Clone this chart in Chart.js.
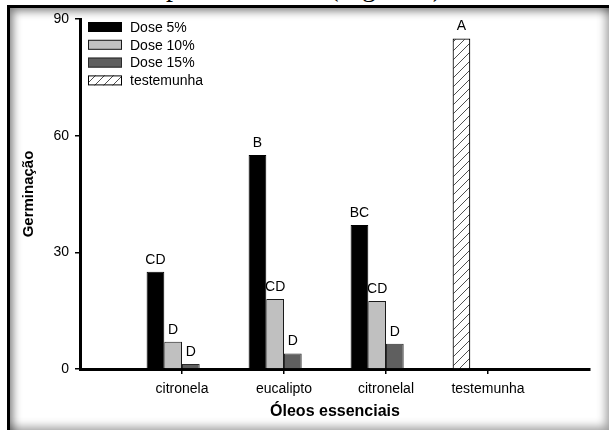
<!DOCTYPE html>
<html lang="pt">
<head>
<meta charset="UTF-8">
<title>Germinação - óleos essenciais</title>
<script src="https://cdn.jsdelivr.net/npm/chart.js@4.4.1/dist/chart.umd.min.js"></script>
<style>
  html, body { margin: 0; padding: 0; background: #fff; }
  body { width: 609px; height: 430px; position: relative; overflow: hidden; }
  .texto { position: absolute; left: 68px; top: -27px; font: 28px/28px "Liberation Serif", "Times New Roman", serif; white-space: nowrap; color: #000; }
  .moldura {
    position: absolute; left: 7px; top: 5px; width: 602px; height: 425px;
    box-sizing: border-box; background: #fff;
    border-top: 3px solid #000; border-left: 3px solid #000;
    box-shadow: inset 8px 8px 9px -5px rgba(0,0,0,.5), inset -8px -8px 10px -5px rgba(0,0,0,.38);
  }
  #grafico { position: absolute; left: 0; top: 0; }
</style>
</head>
<body>

<div class="texto">15%, respectivamente, (Figura 4).</div>
<div class="moldura"></div>
<canvas id="grafico" width="609" height="430"></canvas>

<script>
// dados
var categorias = ['citronela', 'eucalipto', 'citronelal', 'testemunha'];
var dose5 = [25, 55, 37, null];
var dose10 = [7, 18, 17.5, null];
var dose15 = [1.3, 4, 6.5, null];
var testemunha = [null, null, null, 85];

// letras (teste de medias) acima das barras
var letras5 = ['CD', 'B', 'BC', ''];
var letras10 = ['D', 'CD', 'CD', ''];
var letras15 = ['D', 'D', 'D', ''];
var letrasTest = ['', '', '', 'A'];

var yTicks = [0, 30, 60, 90];

var fonte = '"Liberation Sans", Arial, sans-serif';

// uma categoria vazia em cada ponta, como no eixo do Excel
var rotulos = [''].concat(categorias, ['']);
function pad(a) { return [null].concat(a, [null]); }
function padL(a) { return [''].concat(a, ['']); }

function hachura() {
  var c = document.createElement('canvas');
  c.width = 9; c.height = 9;
  var g = c.getContext('2d');
  g.fillStyle = '#fff';
  g.fillRect(0, 0, 9, 9);
  g.strokeStyle = '#222';
  g.lineWidth = 0.8;
  g.beginPath();
  g.moveTo(0, 9); g.lineTo(9, 0);
  g.moveTo(-1, 1); g.lineTo(1, -1);
  g.moveTo(8, 10); g.lineTo(10, 8);
  g.stroke();
  return g.createPattern(c, 'repeat');
}
var padrao = hachura();

var letrasPlugin = {
  id: 'letras',
  afterDatasetsDraw: function (chart) {
    var ctx = chart.ctx;
    ctx.save();
    ctx.font = '14px ' + fonte;
    ctx.fillStyle = '#000';
    ctx.textAlign = 'center';
    ctx.textBaseline = 'alphabetic';
    chart.data.datasets.forEach(function (ds, i) {
      if (!ds.letras) return;
      var meta = chart.getDatasetMeta(i);
      meta.data.forEach(function (bar, j) {
        var t = ds.letras[j];
        if (!t || ds.data[j] == null) return;
        ctx.fillText(t, bar.x, bar.y - 8);
      });
    });
    ctx.restore();
  }
};

// legenda dentro da area do grafico, canto superior esquerdo
var legendaPlugin = {
  id: 'legenda',
  afterDraw: function (chart) {
    var ctx = chart.ctx;
    var itens = chart.data.datasets.filter(function (d) { return d.label; });
    ctx.save();
    ctx.font = '14px ' + fonte;
    ctx.textBaseline = 'middle';
    ctx.textAlign = 'left';
    itens.forEach(function (ds, i) {
      var y = 27 + i * 17.8;
      ctx.fillStyle = ds.backgroundColor;
      ctx.fillRect(88, y - 5, 34, 10);
      ctx.strokeStyle = ds.borderColor;
      ctx.lineWidth = 1;
      ctx.strokeRect(88.5, y - 4.5, 33, 9);
      ctx.fillStyle = '#000';
      ctx.fillText(ds.label, 130, y + 1);
    });
    ctx.restore();
  }
};

new Chart(document.getElementById('grafico'), {
  type: 'bar',
  data: {
    labels: rotulos,
    datasets: [
      { label: 'Dose 5%', data: pad(dose5), letras: padL(letras5), stack: 's1',
        backgroundColor: '#000', borderColor: '#000', borderWidth: 1 },
      { label: 'Dose 10%', data: pad(dose10), letras: padL(letras10), stack: 's2',
        backgroundColor: '#c0c0c0', borderColor: '#1a1a1a', borderWidth: 1 },
      { label: 'Dose 15%', data: pad(dose15), letras: padL(letras15), stack: 's3',
        backgroundColor: '#5f5f5f', borderColor: '#2a2a2a', borderWidth: 1 },
      { label: 'testemunha', data: pad(testemunha), letras: padL(letrasTest), stack: 's1',
        backgroundColor: padrao, borderColor: '#000', borderWidth: 1.2 },
      // vaga vazia: no original cada grupo tem 4 posicoes
      { label: '', data: [], stack: 's4', backgroundColor: 'rgba(0,0,0,0)' }
    ]
  },
  options: {
    responsive: false,
    animation: false,
    categoryPercentage: 0.694,
    barPercentage: 1,
    layout: { padding: { left: 0, top: 19, right: 19, bottom: 0 } },
    plugins: {
      legend: { display: false },
      tooltip: { enabled: false }
    },
    scales: {
      x: {
        offset: false,
        grid: {
          offset: false,
          drawOnChartArea: false,
          tickLength: 5,
          lineWidth: 1.5,
          color: function (c) {
            return (c.index === 0 || c.index === rotulos.length - 1) ? 'rgba(0,0,0,0)' : '#000';
          }
        },
        border: { color: '#000', width: 3 },
        ticks: { color: '#000', font: { size: 14, family: fonte }, padding: 7, autoSkip: false, maxRotation: 0 },
        title: {
          display: true, text: 'Óleos essenciais', color: '#000',
          font: { size: 16, weight: 'bold', family: fonte },
          padding: { top: 0, bottom: 9 }
        },
        afterFit: function (s) { s.height = 61; }
      },
      y: {
        min: 0,
        max: 90,
        afterBuildTicks: function (s) {
          s.ticks = yTicks.map(function (v) { return { value: v }; });
        },
        grid: { drawOnChartArea: false, tickLength: 5, lineWidth: 1.5, color: '#000' },
        border: { color: '#000', width: 3 },
        ticks: { color: '#000', font: { size: 14, family: fonte }, padding: 6 },
        title: {
          display: true, text: 'Germinação', color: '#000',
          font: { size: 15, weight: 'bold', family: fonte },
          padding: { top: 20, bottom: 0 }
        },
        afterFit: function (s) { s.width = 80; }
      }
    }
  },
  plugins: [letrasPlugin, legendaPlugin]
});
</script>
</body>
</html>
